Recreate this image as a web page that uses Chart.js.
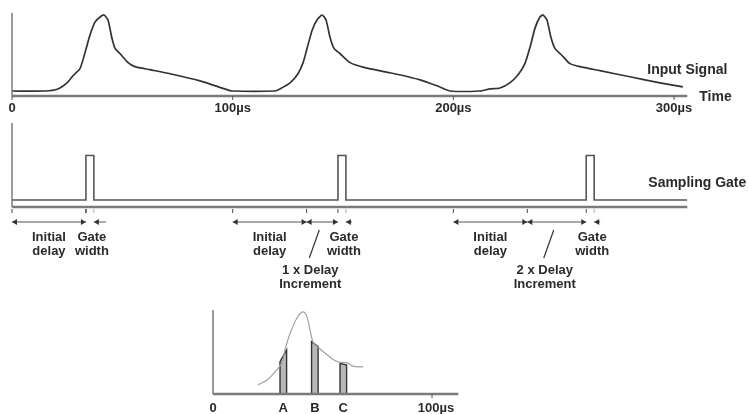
<!DOCTYPE html>
<html>
<head>
<meta charset="utf-8">
<script src="https://cdn.jsdelivr.net/npm/chart.js@4.4.0/dist/chart.umd.min.js"></script>
<style>
  body { margin: 0; background: #fff; }
  #wrap { position: relative; width: 749px; height: 414px; }
  canvas { position: absolute; left: 0; top: 0; }
</style>
</head>
<body>
<div id="wrap">
  <canvas id="signal" width="749" height="414"></canvas>
  <canvas id="gate" width="749" height="414"></canvas>
  <canvas id="samples" width="749" height="414"></canvas>
</div>
<script>
// input signal, time in µs, level in % of peak
const signalTime = [0, 15, 20.8, 24.9, 27.6, 30.8, 33.1, 35.3, 37.6, 39.9, 41.7, 43.5, 45.3, 46.7, 48.9, 52.6, 55.7, 62.5, 71.6, 85.2, 96.5, 99.7,
  119.2, 121.4, 126, 129.6, 131.9, 133.7, 136, 138.2, 140.5, 142.3, 144.1, 145.9, 148.6, 153.2, 159.9, 171.3, 184.9, 193.9, 198.5, 212, 216.6,
  221.1, 225.6, 229.3, 232.4, 234.7, 237, 239.2, 240.6, 242.4, 244.2, 246, 249.2, 252.8, 257.4, 266.4, 280, 293.6, 304];
const signalLevel = [0, 0, 2.7, 10.7, 20, 29.3, 50.7, 73.3, 90.7, 97.3, 100, 93.3, 69.3, 56, 49.3, 37.3, 32, 28, 22.7, 13.3, 2.7, 0,
  0, 2.7, 10.7, 22.7, 37.3, 56, 80, 93.3, 100, 93.3, 70.7, 56, 49.3, 37.3, 30.7, 24, 14.7, 5.3, 0, 0, 2.7,
  4, 10.7, 21.3, 36, 57.3, 82.7, 97.3, 100, 93.3, 70.7, 56, 46.7, 36, 32, 26.7, 18.7, 10.7, 5.3];
const signalTicks = [0, 100, 200, 300];
const signalTickLabels = ["0", "100µs", "200µs", "300µs"];

// sampling gate
const cycleStarts = [0, 100, 200];
const initialDelay = 33.5;
const gateStarts = [33.5, 147.7, 260.2];
const gateWidth = 3.6;
const incrementLabels = ["", "1 x Delay", "2 x Delay"];

// recovered waveform
const recoveredTime = [20.5, 24.7, 28.3, 31.5, 32.9, 35.2, 38.4, 41.1, 42.9, 44.3, 45.7, 47.9, 51.1, 54.3, 57.1, 61.2, 63.9, 68.5];
const recoveredLevel = [11, 17, 27, 38, 54, 74, 93, 100, 94, 78, 63, 57, 50, 43, 39, 38, 34, 33];
const sampleNames = ["A", "B", "C"];
const sampleStarts = [30.6, 45, 58];
const sampleWidth = 3;
const sampleLeftLevel = [39.4, 63.8, 37.4];
const sampleRightLevel = [53.7, 57.7, 35.4];
const sampleTicks = [0, 100];
const sampleTickLabels = ["0", "100µs"];

const FONT = 'bold 13px "Liberation Sans", Arial, sans-serif';
const BIG_FONT = 'bold 14px "Liberation Sans", Arial, sans-serif';
const INK = "#2a2a2a";
const AXIS = "#7a7a7a";

function line(ctx, x1, y1, x2, y2, w, color) {
  ctx.save();
  ctx.strokeStyle = color;
  ctx.lineWidth = w;
  ctx.beginPath();
  ctx.moveTo(x1, y1);
  ctx.lineTo(x2, y2);
  ctx.stroke();
  ctx.restore();
}

function head(ctx, x, y, dir) {
  ctx.save();
  ctx.fillStyle = "#333";
  ctx.beginPath();
  ctx.moveTo(x, y);
  ctx.lineTo(x - dir * 5, y - 3);
  ctx.lineTo(x - dir * 5, y + 3);
  ctx.closePath();
  ctx.fill();
  ctx.restore();
}

function text(ctx, str, x, y, align, font) {
  ctx.save();
  ctx.font = font || FONT;
  ctx.fillStyle = INK;
  ctx.textAlign = align || "center";
  ctx.textBaseline = "middle";
  ctx.fillText(str, x, y);
  ctx.restore();
}

function baseOptions(pad, xMax, yMin, yMax) {
  return {
    responsive: false,
    animation: false,
    layout: { padding: pad },
    plugins: { legend: { display: false }, tooltip: { enabled: false } },
    elements: { point: { radius: 0 } },
    scales: {
      x: { type: "linear", min: 0, max: xMax, display: false },
      y: { min: yMin, max: yMax, display: false }
    }
  };
}

// ---- input signal ----
new Chart(document.getElementById("signal"), {
  type: "line",
  data: {
    datasets: [{
      data: signalTime.map((t, i) => ({ x: t, y: signalLevel[i] })),
      borderColor: "#333",
      borderWidth: 1.7,
      tension: 0.2
    }]
  },
  options: baseOptions({ left: 12, right: 61.7, top: 13, bottom: 318 }, 306, -6.6, 102.6),
  plugins: [{
    id: "signalAxes",
    afterDraw(chart) {
      const { ctx, chartArea: a, scales: { x } } = chart;
      line(ctx, a.left, a.top, a.left, a.bottom, 1.5, AXIS);
      line(ctx, a.left, a.bottom, a.right, a.bottom, 2.5, AXIS);
      signalTicks.forEach((t, i) => {
        const px = x.getPixelForValue(t);
        line(ctx, px, a.bottom, px, a.bottom + 4, 1, "#555");
        text(ctx, signalTickLabels[i], px, a.bottom + 12);
      });
      text(ctx, "Input Signal", a.right - 40, 70, "left", BIG_FONT);
      text(ctx, "Time", a.right + 12, a.bottom + 1, "left", BIG_FONT);
    }
  }]
});

// ---- sampling gate ----
const gatePoints = [{ x: 0, y: 0 }];
gateStarts.forEach((s) => {
  gatePoints.push({ x: s, y: 0 }, { x: s, y: 1 }, { x: s + gateWidth, y: 1 }, { x: s + gateWidth, y: 0 });
});
gatePoints.push({ x: 306, y: 0 });

new Chart(document.getElementById("gate"), {
  type: "line",
  data: {
    datasets: [{
      data: gatePoints,
      borderColor: "#555",
      borderWidth: 1.6,
      tension: 0
    }]
  },
  options: baseOptions({ left: 12, right: 61.7, top: 123, bottom: 207 }, 306, -0.157, 1.73),
  plugins: [{
    id: "gateAxes",
    afterDraw(chart) {
      const { ctx, chartArea: a, scales: { x } } = chart;
      const px = (v) => x.getPixelForValue(v);
      const row = a.bottom + 15;
      line(ctx, a.left, a.top, a.left, a.bottom, 1.5, AXIS);
      line(ctx, a.left, a.bottom, a.right, a.bottom, 2.5, AXIS);
      text(ctx, "Sampling Gate", a.right - 39, 183, "left", BIG_FONT);

      cycleStarts.forEach((c, i) => {
        const delayEnd = c + initialDelay;
        const g = gateStarts[i];
        const gEnd = g + gateWidth;
        // ticks
        [c, delayEnd, g].forEach((v) => line(ctx, px(v), a.bottom + 2, px(v), a.bottom + 6, 1, "#444"));
        line(ctx, px(gEnd), a.bottom + 2, px(gEnd), a.bottom + 6, 1, "#aaa");
        // initial delay arrow
        line(ctx, px(c), row, px(delayEnd), row, 1, "#555");
        head(ctx, px(c), row, -1);
        head(ctx, px(delayEnd), row, 1);
        // delay increment arrow
        if (g > delayEnd + 1) {
          line(ctx, px(delayEnd), row, px(g), row, 1, "#555");
          head(ctx, px(delayEnd), row, -1);
          head(ctx, px(g), row, 1);
        }
        // gate width pointer
        line(ctx, px(gEnd), row, px(gEnd) + (i === 0 ? 12 : 6), row, 1, "#555");
        head(ctx, px(gEnd), row, -1);

        text(ctx, "Initial", (px(c) + px(delayEnd)) / 2, 237);
        text(ctx, "delay", (px(c) + px(delayEnd)) / 2, 251);
        const gc = (px(g) + px(gEnd)) / 2 + 2;
        text(ctx, "Gate", gc, 237);
        text(ctx, "width", gc, 251);

        if (incrementLabels[i]) {
          const mid = (px(delayEnd) + px(g)) / 2;
          line(ctx, mid - 3, 230, mid - 13, 258, 1.2, "#333");
          text(ctx, incrementLabels[i], mid - 12, 270);
          text(ctx, "Increment", mid - 12, 284);
        }
      });
    }
  }]
});

// ---- recovered waveform with samples ----
const sampleSets = sampleStarts.map((s, i) => ({
  data: [
    { x: s, y: 0 },
    { x: s, y: sampleLeftLevel[i] },
    { x: s + sampleWidth, y: sampleRightLevel[i] },
    { x: s + sampleWidth, y: 0 }
  ],
  borderColor: "#333",
  borderWidth: 1.4,
  backgroundColor: "#b8b8b8",
  fill: "origin",
  tension: 0
}));

new Chart(document.getElementById("samples"), {
  type: "line",
  data: {
    datasets: [{
      data: recoveredTime.map((t, i) => ({ x: t, y: recoveredLevel[i] })),
      borderColor: "#a0a0a0",
      borderWidth: 1.2,
      tension: 0.3
    }].concat(sampleSets)
  },
  options: baseOptions({ left: 213, right: 290.7, top: 310, bottom: 20 }, 112, 0, 102.4),
  plugins: [{
    id: "sampleAxes",
    afterDraw(chart) {
      const { ctx, chartArea: a, scales: { x } } = chart;
      line(ctx, a.left, a.top, a.left, a.bottom, 1.5, AXIS);
      line(ctx, a.left, a.bottom, a.right, a.bottom, 2.5, AXIS);
      sampleTicks.forEach((t, i) => {
        const p = x.getPixelForValue(t);
        if (t > 0) line(ctx, p, a.bottom, p, a.bottom + 4, 1, "#555");
        text(ctx, sampleTickLabels[i], p + (t > 0 ? 4 : 0), a.bottom + 14);
      });
      sampleNames.forEach((n, i) => {
        text(ctx, n, x.getPixelForValue(sampleStarts[i] + sampleWidth / 2), a.bottom + 14);
      });
    }
  }]
});
</script>
</body>
</html>
